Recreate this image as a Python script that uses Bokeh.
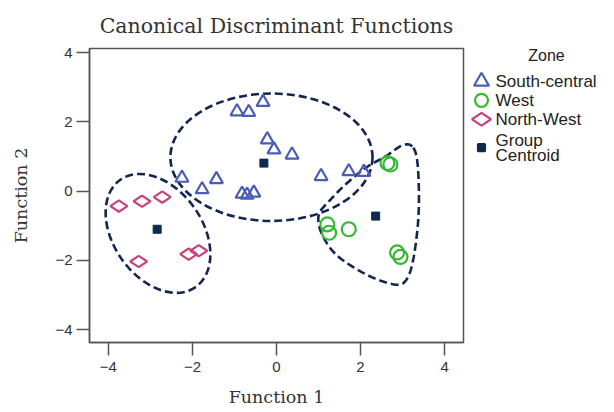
import numpy as np
from bokeh.plotting import figure
from bokeh.models import Range1d, FixedTicker, Label
from bokeh.layouts import row
from bokeh.embed import file_html
from bokeh.resources import INLINE
from bokeh.core.properties import value

# ---------------- data ----------------
south_central_f1 = [-0.94, -0.66, -0.32, -0.22, -0.06, 0.37, -2.25, -1.77, -1.43,
                    -0.82, -0.70, -0.54, 1.06, 1.72, 2.08]
south_central_f2 = [2.30, 2.28, 2.57, 1.49, 1.20, 1.05, 0.38, 0.05, 0.34,
                    -0.08, -0.11, -0.05, 0.43, 0.57, 0.55]
west_f1 = [2.64, 2.71, 1.21, 1.25, 1.72, 2.87, 2.95]
west_f2 = [0.81, 0.77, -0.96, -1.20, -1.10, -1.77, -1.90]
north_west_f1 = [-3.75, -3.20, -2.72, -3.28, -2.09, -1.85]
north_west_f2 = [-0.43, -0.29, -0.17, -2.03, -1.82, -1.72]
centroid_f1 = [-0.30, 2.36, -2.84]
centroid_f2 = [0.81, -0.72, -1.10]

# group boundaries (hand-drawn outlines in function space)
ellipse_f1 = [-0.12, -2.82]
ellipse_f2 = [0.98, -1.22]
ellipse_w = [4.81, 3.12]
ellipse_h = [3.68, 2.57]
ellipse_angle = [0, -55]
west_boundary_f1 = [3.23, 2.99, 2.60, 2.12, 1.64, 1.25, 1.01, 1.05, 1.33, 1.72,
                    2.28, 2.83, 3.07, 3.23, 3.35, 3.39, 3.35]
west_boundary_f2 = [1.29, 1.32, 1.01, 0.67, 0.19, -0.29, -0.67, -1.15, -1.72, -2.11,
                    -2.49, -2.70, -2.59, -2.11, -1.15, -0.19, 0.86]

ticks = [-4, -2, 0, 2, 4]
legend_labels = ["South-central", "West", "North-West", "Group\nCentroid"]
legend_lines = [1, 1, 1, 2]

BLUE = "#4b5cb4"
GREEN = "#34b834"
PINK = "#c9437f"
NAVY = "#12264f"
CENTROID = "#0e2a4c"

BORDER_TOP, BORDER_BOTTOM, HEIGHT = 47, 69, 411


def closed_catmull_rom(xs, ys, steps=16):
    P = np.column_stack([xs, ys]).astype(float)
    n = len(P)
    out = []
    for i in range(n):
        p0, p1, p2, p3 = P[i - 1], P[i], P[(i + 1) % n], P[(i + 2) % n]
        for t in np.linspace(0, 1, steps, endpoint=False):
            pt = 0.5 * (2 * p1 + (-p0 + p2) * t + (2 * p0 - 5 * p1 + 4 * p2 - p3) * t * t
                        + (-p0 + 3 * p1 - 3 * p2 + p3) * t ** 3)
            out.append(pt)
    out.append(out[0])
    out = np.array(out)
    return out[:, 0], out[:, 1]


# ---------------- main plot ----------------
p = figure(width=468, height=HEIGHT, output_backend="svg", toolbar_location=None,
           x_range=Range1d(-4.45, 4.45), y_range=Range1d(-4.37, 4.12),
           min_border_left=89, min_border_right=5, min_border_top=BORDER_TOP,
           min_border_bottom=BORDER_BOTTOM,
           title="Canonical Discriminant Functions")
p.background_fill_color = "white"
p.border_fill_color = "white"
p.grid.visible = False
p.outline_line_color = "#555555"
p.outline_line_width = 1.5

p.title.align = "center"
p.title.text_font = "DejaVu Serif"
p.title.text_font_size = "20.5px"
p.title.text_font_style = "normal"
p.title.text_color = "#333333"
p.title.standoff = 22

for ax in (p.xaxis[0], p.yaxis[0]):
    ax.ticker = FixedTicker(ticks=ticks)
    ax.minor_tick_line_color = None
    ax.major_tick_out = 13
    ax.major_tick_in = 0
    ax.major_tick_line_color = "#555555"
    ax.major_tick_line_width = 1.5
    ax.axis_line_color = "#555555"
    ax.axis_line_width = 1.5
    ax.major_label_text_font = "Liberation Sans"
    ax.major_label_text_font_size = "15px"
    ax.major_label_text_color = "#333333"
    ax.axis_label_text_font = "DejaVu Serif"
    ax.axis_label_text_font_size = "17.5px"
    ax.axis_label_text_font_style = "normal"
    ax.axis_label_text_color = "#333333"

p.xaxis.axis_label = "Function 1"
p.yaxis.axis_label = "Function 2"
p.xaxis.major_label_standoff = 6
p.yaxis.major_label_standoff = 4
p.xaxis.axis_label_standoff = 12
p.yaxis.axis_label_standoff = 21

# boundaries
p.ellipse(x=ellipse_f1, y=ellipse_f2, width=ellipse_w, height=ellipse_h,
          angle=ellipse_angle, angle_units="deg", fill_color=None,
          line_color=NAVY, line_width=2.6, line_dash="8 4")
bx, by = closed_catmull_rom(west_boundary_f1, west_boundary_f2)
p.line(bx, by, line_color=NAVY, line_width=2.6, line_dash="8 4")

# group points
p.scatter(south_central_f1, south_central_f2, marker="triangle", size=13,
          fill_color=None, line_color=BLUE, line_width=2.2)
p.scatter(west_f1, west_f2, marker="circle", size=14,
          fill_color=None, line_color=GREEN, line_width=2.2)
p.scatter(north_west_f1, north_west_f2, marker="diamond", size=17, angle=90,
          angle_units="deg", fill_color=None, line_color=PINK, line_width=2.2)
p.scatter(centroid_f1, centroid_f2, marker="square", size=8,
          fill_color=CENTROID, line_color=CENTROID)

# ---------------- legend panel ----------------
starts = np.concatenate([[0], np.cumsum(legend_lines)[:-1]])
rows = starts + (np.array(legend_lines) - 1) / 2.0

frame_h = HEIGHT - BORDER_TOP - BORDER_BOTTOM
row_px = 19.0
first_row_px = 33.0
lg = figure(width=138, height=HEIGHT, output_backend="svg", toolbar_location=None,
            x_range=Range1d(-13, 125),
            y_range=Range1d((frame_h - first_row_px) / row_px, -first_row_px / row_px),
            x_axis_location=None, y_axis_location=None,
            min_border_left=0, min_border_right=0,
            min_border_top=BORDER_TOP, min_border_bottom=BORDER_BOTTOM)
lg.outline_line_color = None
lg.grid.visible = False
lg.background_fill_color = "white"
lg.border_fill_color = "white"

markers = ["triangle", "circle", "diamond", "square"]
msizes = [15, 13, 19, 7]
mcolors = [BLUE, GREEN, PINK, CENTROID]
mfills = [None, None, None, CENTROID]
mangles = [0, 0, 90, 0]
for i in range(len(legend_labels)):
    lg.scatter([0], [rows[i]], marker=markers[i], size=msizes[i], angle=mangles[i],
               angle_units="deg", fill_color=mfills[i], line_color=mcolors[i],
               line_width=2.2)
lg.text(x=[0] * len(legend_labels), y=list(rows), text=legend_labels, x_offset=14,
        text_font=value("Liberation Sans"), text_font_size="17px",
        text_baseline="middle", text_align="left", text_color="#222222",
        text_line_height=0.8)
lg.add_layout(Label(x=65, y=-1.39, text="Zone", text_align="center",
                    text_baseline="middle", text_font="Liberation Sans",
                    text_font_size="16px", text_color="#222222"))

layout = row(p, lg)
open("out.html", "w").write(file_html(layout, INLINE))
